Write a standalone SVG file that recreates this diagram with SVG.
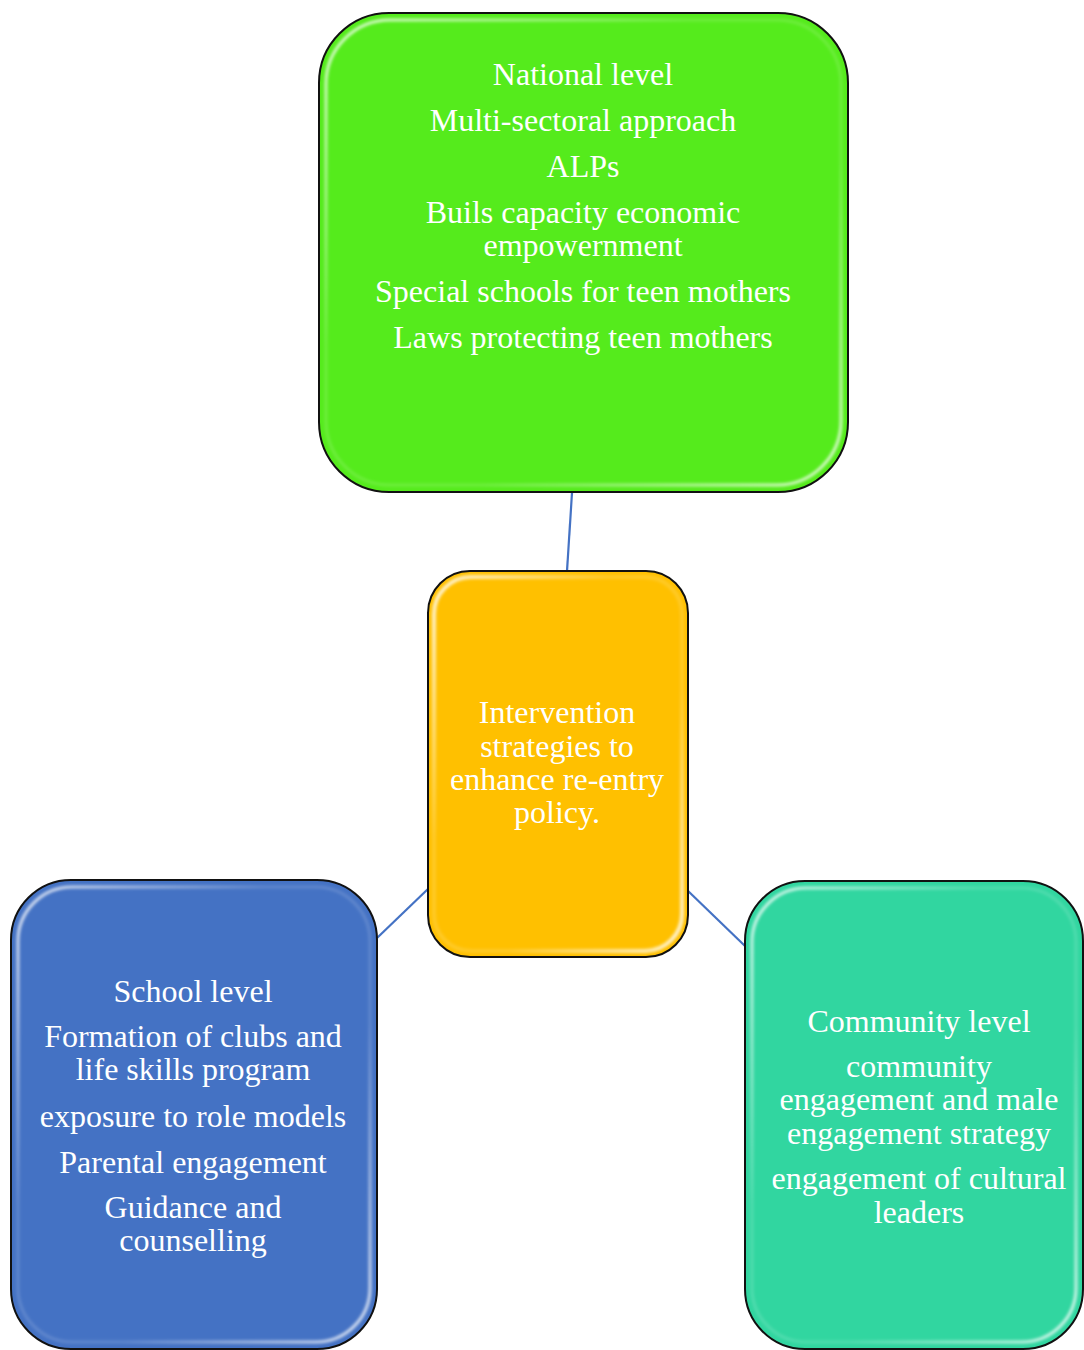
<svg xmlns="http://www.w3.org/2000/svg" width="1084" height="1350" viewBox="0 0 1084 1350">
  <defs>
    <filter id="soft" x="-5%" y="-5%" width="110%" height="110%">
      <feGaussianBlur stdDeviation="1.6"/>
    </filter>
    <linearGradient id="hl" x1="0" y1="0" x2="1" y2="1">
      <stop offset="0" stop-color="#ffffff" stop-opacity="0.85"/>
      <stop offset="0.35" stop-color="#ffffff" stop-opacity="0.15"/>
      <stop offset="0.65" stop-color="#ffffff" stop-opacity="0.15"/>
      <stop offset="1" stop-color="#ffffff" stop-opacity="0.85"/>
    </linearGradient>
  </defs>
  <style>
    .box { stroke: #111111; stroke-width: 2; }
    .shine { fill: none; stroke: url(#hl); stroke-width: 3; filter: url(#soft); }
    .lbl { font-family: "Liberation Serif", "Times New Roman", serif; font-size: 32px; fill: #ffffff; text-anchor: middle; }
    .conn { stroke: #4472C4; stroke-width: 2.2; fill: none; }
  </style>
  <rect width="1084" height="1350" fill="#ffffff"/>

  <g id="connectors">
    <line class="conn" x1="572" y1="493" x2="567" y2="571"/>
    <line class="conn" x1="429" y1="888" x2="377" y2="938"/>
    <line class="conn" x1="686" y1="889" x2="745" y2="946"/>
  </g>

  <g id="national">
    <rect class="box" x="319" y="13" width="529" height="479" rx="70" ry="70" fill="#55EB1C"/>
    <rect class="shine" x="326" y="20" width="515" height="465" rx="64" ry="64"/>
    <text class="lbl" x="583" y="85">National level</text>
    <text class="lbl" x="583" y="131">Multi-sectoral approach</text>
    <text class="lbl" x="583" y="177">ALPs</text>
    <text class="lbl" x="583" y="223">Buils capacity economic</text>
    <text class="lbl" x="583" y="256">empowernment</text>
    <text class="lbl" x="583" y="302">Special schools for teen mothers</text>
    <text class="lbl" x="583" y="348">Laws protecting teen mothers</text>
  </g>

  <g id="center">
    <rect class="box" x="428" y="571" width="260" height="386" rx="42" ry="42" fill="#FFC000"/>
    <rect class="shine" x="434" y="577" width="248" height="374" rx="37" ry="37" style="stroke-width:4"/>
    <text class="lbl" x="557" y="723">Intervention</text>
    <text class="lbl" x="557" y="757">strategies to</text>
    <text class="lbl" x="557" y="790">enhance re-entry</text>
    <text class="lbl" x="557" y="823">policy.</text>
  </g>

  <g id="school">
    <rect class="box" x="11" y="880" width="366" height="469" rx="60" ry="60" fill="#4472C4"/>
    <rect class="shine" x="18" y="887" width="352" height="455" rx="54" ry="54"/>
    <text class="lbl" x="193" y="1002">School level</text>
    <text class="lbl" x="193" y="1047">Formation of clubs and</text>
    <text class="lbl" x="193" y="1080">life skills program</text>
    <text class="lbl" x="193" y="1127">exposure to role models</text>
    <text class="lbl" x="193" y="1173">Parental engagement</text>
    <text class="lbl" x="193" y="1218">Guidance and</text>
    <text class="lbl" x="193" y="1251">counselling</text>
  </g>

  <g id="community">
    <rect class="box" x="745" y="881" width="338" height="468" rx="60" ry="60" fill="#31D6A0"/>
    <rect class="shine" x="752" y="888" width="324" height="454" rx="54" ry="54"/>
    <text class="lbl" x="919" y="1032">Community level</text>
    <text class="lbl" x="919" y="1077">community</text>
    <text class="lbl" x="919" y="1110">engagement and male</text>
    <text class="lbl" x="919" y="1144">engagement strategy</text>
    <text class="lbl" x="919" y="1189">engagement of cultural</text>
    <text class="lbl" x="919" y="1223">leaders</text>
  </g>
</svg>
